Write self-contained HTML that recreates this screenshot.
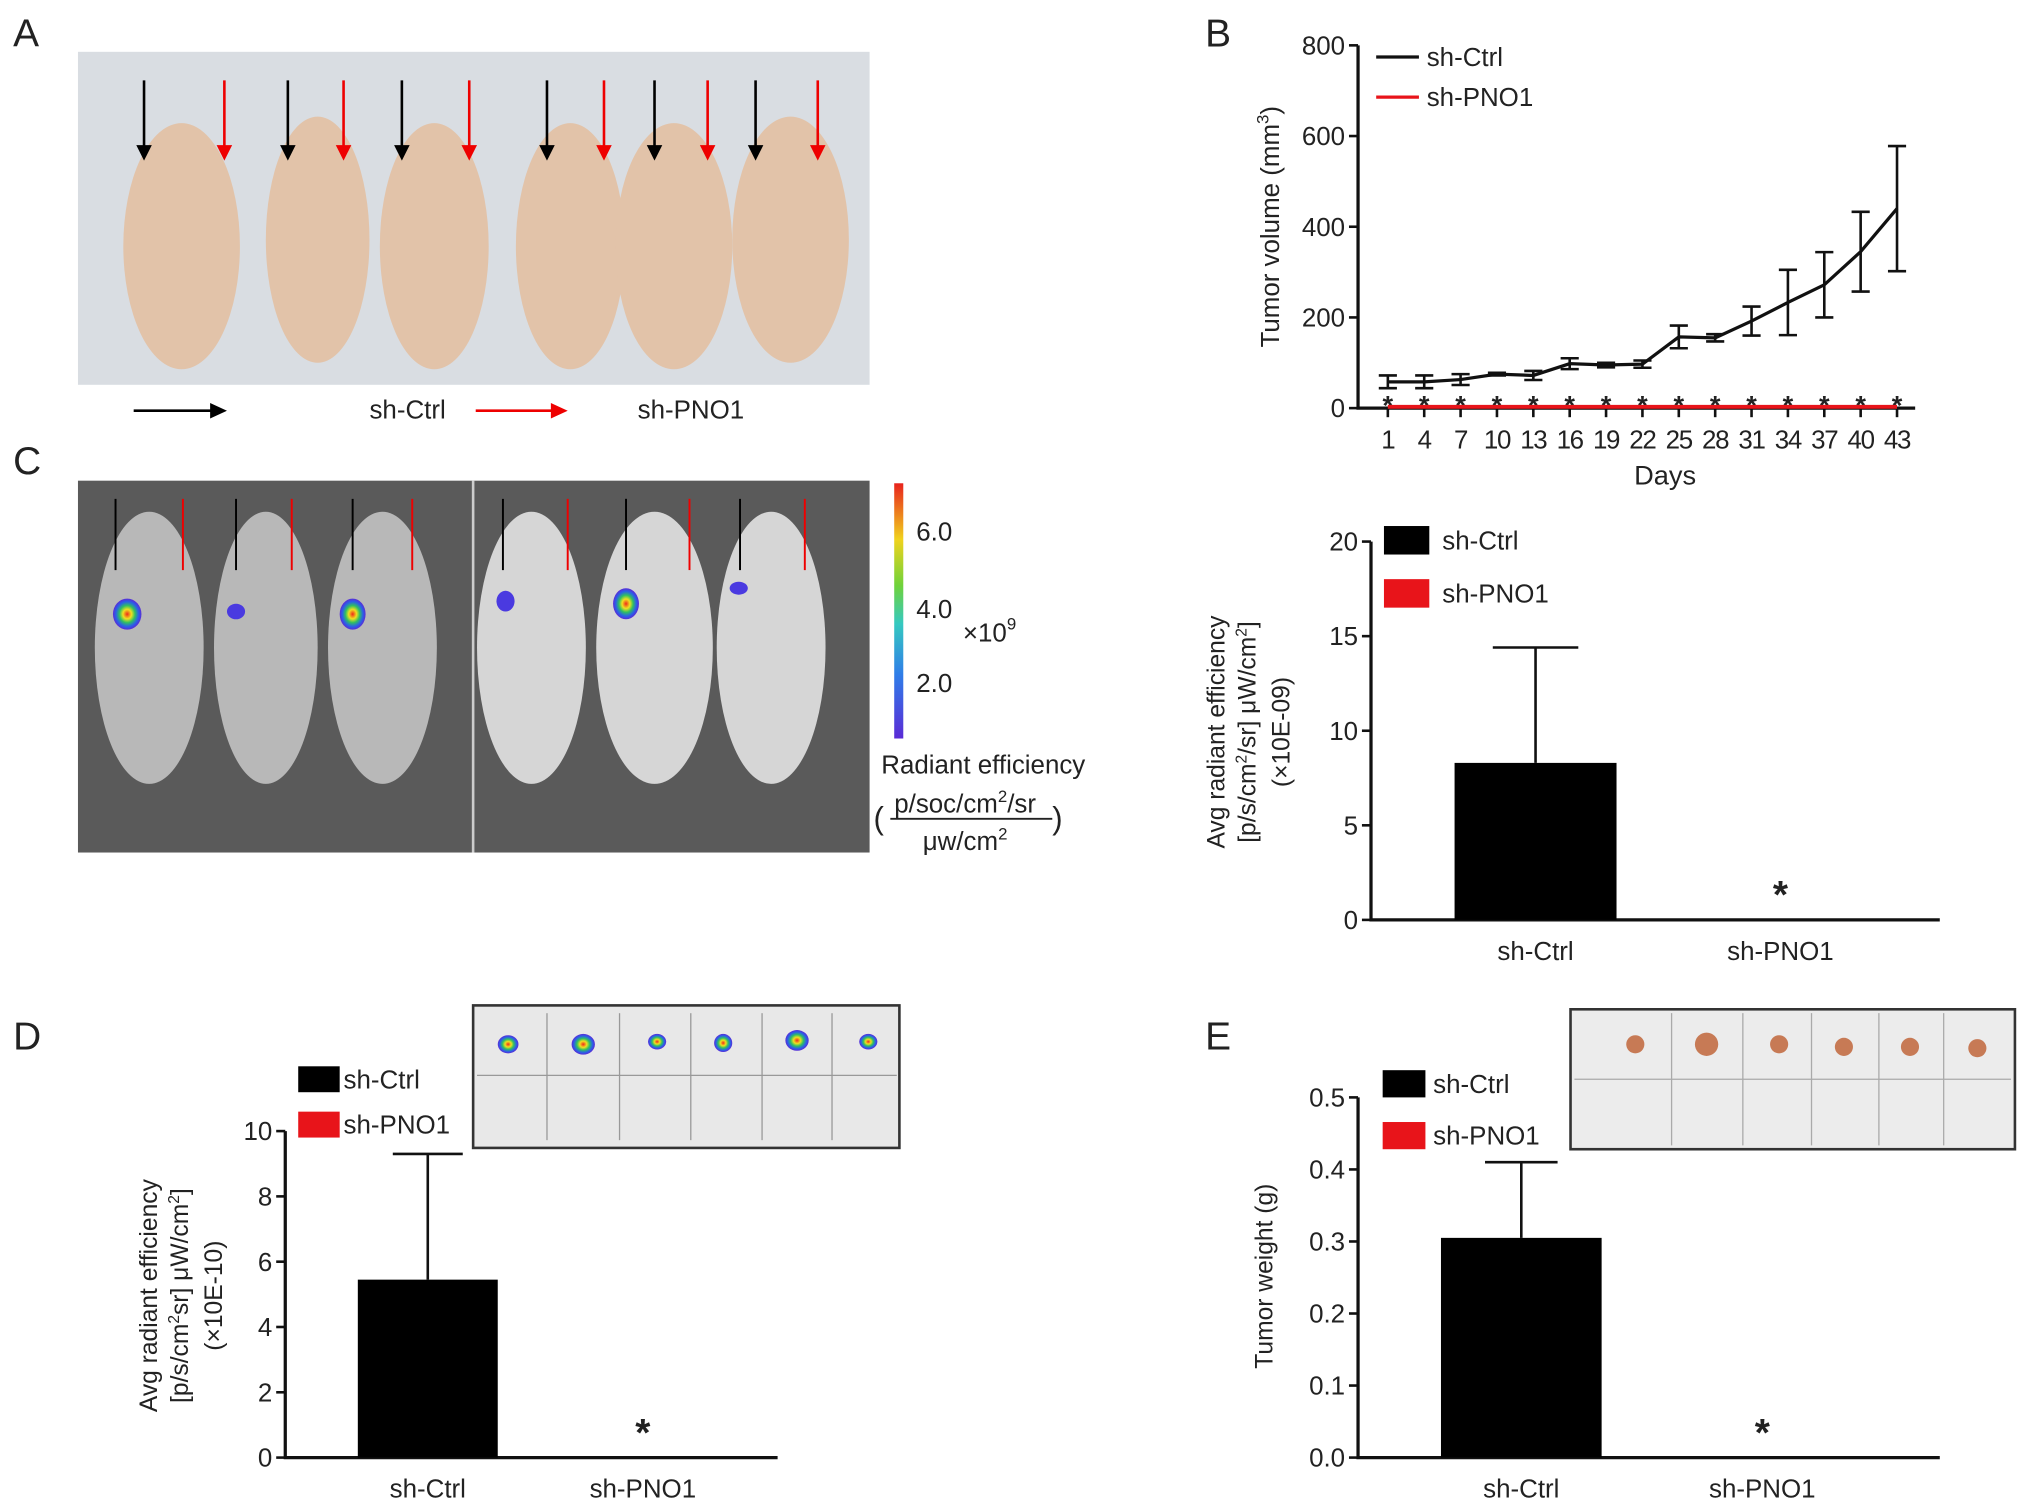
<!DOCTYPE html>
<html><head><meta charset="utf-8"><style>
html,body{margin:0;padding:0;background:#fff;}
svg{display:block;font-family:"Liberation Sans",Arial,sans-serif;}
text{fill:#222;}
</style></head><body>
<svg id="fig" width="2032" height="1512" viewBox="0 0 1568 1167" xmlns="http://www.w3.org/2000/svg">
<defs>
<linearGradient id="cbar" x1="0" y1="1" x2="0" y2="0">
<stop offset="0" stop-color="#5a2bd6"/><stop offset="0.25" stop-color="#2f7de8"/><stop offset="0.45" stop-color="#35c9c0"/><stop offset="0.6" stop-color="#6fd23a"/><stop offset="0.78" stop-color="#f0d21d"/><stop offset="1" stop-color="#e8231d"/></linearGradient>
<radialGradient id="spot"><stop offset="0" stop-color="#f02a1a"/><stop offset="0.3" stop-color="#f0e020"/><stop offset="0.55" stop-color="#30c060"/><stop offset="0.8" stop-color="#2a60e8"/><stop offset="1" stop-color="#5a2bd6"/></radialGradient>
</defs>
<text x="10" y="36" font-size="30">A</text>
<text x="930" y="36" font-size="30">B</text>
<text x="10" y="366" font-size="30">C</text>
<text x="10" y="810" font-size="30">D</text>
<text x="930" y="810" font-size="30">E</text>

<g>
<rect x="60" y="40" width="611" height="257" fill="#d9dde2"/>
<g fill="#e2c3a9">
<ellipse cx="140" cy="190" rx="45" ry="95"/><ellipse cx="245" cy="185" rx="40" ry="95"/><ellipse cx="335" cy="190" rx="42" ry="95"/>
<ellipse cx="440" cy="190" rx="42" ry="95"/><ellipse cx="520" cy="190" rx="45" ry="95"/><ellipse cx="610" cy="185" rx="45" ry="95"/>
</g>
<g stroke-width="2">
<line x1="111" y1="62" x2="111" y2="114" stroke="#000"/><line x1="173" y1="62" x2="173" y2="114" stroke="#e00"/>
<line x1="222" y1="62" x2="222" y2="114" stroke="#000"/><line x1="265" y1="62" x2="265" y2="114" stroke="#e00"/>
<line x1="310" y1="62" x2="310" y2="114" stroke="#000"/><line x1="362" y1="62" x2="362" y2="114" stroke="#e00"/>
<line x1="422" y1="62" x2="422" y2="114" stroke="#000"/><line x1="466" y1="62" x2="466" y2="114" stroke="#e00"/>
<line x1="505" y1="62" x2="505" y2="114" stroke="#000"/><line x1="546" y1="62" x2="546" y2="114" stroke="#e00"/>
<line x1="583" y1="62" x2="583" y2="114" stroke="#000"/><line x1="631" y1="62" x2="631" y2="114" stroke="#e00"/>
</g>
<g fill="#000"><polygon points="105,112 117,112 111,124"/><polygon points="216,112 228,112 222,124"/><polygon points="304,112 316,112 310,124"/><polygon points="416,112 428,112 422,124"/><polygon points="499,112 511,112 505,124"/><polygon points="577,112 589,112 583,124"/></g>
<g fill="#e00"><polygon points="167,112 179,112 173,124"/><polygon points="259,112 271,112 265,124"/><polygon points="356,112 368,112 362,124"/><polygon points="460,112 472,112 466,124"/><polygon points="540,112 552,112 546,124"/><polygon points="625,112 637,112 631,124"/></g>
</g>
<g>
<line x1="103" y1="317" x2="165" y2="317" stroke="#000" stroke-width="2"/><polygon points="175,317 162,311 162,323" fill="#000"/>
<text x="285" y="323" font-size="20">sh-Ctrl</text>
<line x1="367" y1="317" x2="428" y2="317" stroke="#e00" stroke-width="2"/><polygon points="438,317 425,311 425,323" fill="#e00"/>
<text x="492" y="323" font-size="20">sh-PNO1</text>
</g>

<g>
<rect x="60" y="371" width="611" height="287" fill="#5a5a5a"/>
<line x1="365" y1="371" x2="365" y2="658" stroke="#ccc" stroke-width="2"/>
<g fill="#b8b8b8">
<ellipse cx="115" cy="500" rx="42" ry="105"/><ellipse cx="205" cy="500" rx="40" ry="105"/><ellipse cx="295" cy="500" rx="42" ry="105"/>
</g>
<g fill="#d6d6d6">
<ellipse cx="410" cy="500" rx="42" ry="105"/><ellipse cx="505" cy="500" rx="45" ry="105"/><ellipse cx="595" cy="500" rx="42" ry="105"/>
</g>
<g stroke-width="1.5">
<line x1="89" y1="385" x2="89" y2="440" stroke="#000"/><line x1="141" y1="385" x2="141" y2="440" stroke="#e00"/>
<line x1="182" y1="385" x2="182" y2="440" stroke="#000"/><line x1="225" y1="385" x2="225" y2="440" stroke="#e00"/>
<line x1="272" y1="385" x2="272" y2="440" stroke="#000"/><line x1="318" y1="385" x2="318" y2="440" stroke="#e00"/>
<line x1="388" y1="385" x2="388" y2="440" stroke="#000"/><line x1="438" y1="385" x2="438" y2="440" stroke="#e00"/>
<line x1="483" y1="385" x2="483" y2="440" stroke="#000"/><line x1="532" y1="385" x2="532" y2="440" stroke="#e00"/>
<line x1="571" y1="385" x2="571" y2="440" stroke="#000"/><line x1="621" y1="385" x2="621" y2="440" stroke="#e00"/>
</g>
<ellipse cx="98" cy="474" rx="11" ry="12" fill="url(#spot)"/><ellipse cx="182" cy="472" rx="7" ry="6" fill="#4a3ae0"/>
<ellipse cx="272" cy="474" rx="10" ry="12" fill="url(#spot)"/><ellipse cx="390" cy="464" rx="7" ry="8" fill="#4a3ae0"/>
<ellipse cx="483" cy="466" rx="10" ry="12" fill="url(#spot)"/><ellipse cx="570" cy="454" rx="7" ry="5" fill="#4a3ae0"/>
<rect x="690" y="373" width="7" height="197" fill="url(#cbar)"/>
</g>
<g font-size="20">
<text x="707" y="417">6.0</text><text x="707" y="477">4.0</text><text x="707" y="534">2.0</text>
<text x="743" y="495">×10<tspan font-size="13" dy="-9">9</tspan></text>
<text x="680" y="597">Radiant efficiency</text>
<text x="674" y="640" font-size="24">(</text><text x="812" y="640" font-size="24">)</text>
<text x="690" y="627">p/soc/cm<tspan font-size="13" dy="-8">2</tspan><tspan dy="8">/sr</tspan></text>
<line x1="687" y1="632" x2="812" y2="632" stroke="#222" stroke-width="1.5"/>
<text x="712" y="656">μw/cm<tspan font-size="13" dy="-8">2</tspan></text>
</g>

<g>
<rect x="365" y="776" width="329" height="110" fill="#e8e8e8" stroke="#333" stroke-width="2"/>
<line x1="368" y1="830" x2="692" y2="830" stroke="#999"/>
<g stroke="#999"><line x1="422" y1="782" x2="422" y2="880"/><line x1="478" y1="782" x2="478" y2="880"/><line x1="533" y1="782" x2="533" y2="880"/><line x1="588" y1="782" x2="588" y2="880"/><line x1="642" y1="782" x2="642" y2="880"/></g>
<g fill="url(#spot)"><ellipse cx="392" cy="806" rx="8" ry="7"/><ellipse cx="450" cy="806" rx="9" ry="8"/><ellipse cx="507" cy="804" rx="7" ry="6"/><ellipse cx="558" cy="805" rx="7" ry="7"/><ellipse cx="615" cy="803" rx="9" ry="8"/><ellipse cx="670" cy="804" rx="7" ry="6"/></g>
</g>
<g>
<rect x="1212" y="779" width="343" height="108" fill="#ececec" stroke="#333" stroke-width="2"/>
<line x1="1215" y1="833" x2="1552" y2="833" stroke="#aaa"/>
<g stroke="#aaa"><line x1="1290" y1="782" x2="1290" y2="884"/><line x1="1345" y1="782" x2="1345" y2="884"/><line x1="1398" y1="782" x2="1398" y2="884"/><line x1="1450" y1="782" x2="1450" y2="884"/><line x1="1500" y1="782" x2="1500" y2="884"/></g>
<g fill="#c77a55"><circle cx="1262" cy="806" r="7"/><circle cx="1317" cy="806" r="9"/><circle cx="1373" cy="806" r="7"/><circle cx="1423" cy="808" r="7"/><circle cx="1474" cy="808" r="7"/><circle cx="1526" cy="809" r="7"/></g>
</g>

<g id="chartB"></g>
<g id="chartC"></g>
<g id="chartD"></g>
<g id="chartE"></g>
</svg>
<script>
const days = [1,4,7,10,13,16,19,22,25,28,31,34,37,40,43];
const ctrlVolume = [58,58,63,75,72,98,95,97,157,155,192,233,272,345,440];
const ctrlVolumeErr = [14,14,12,3,10,12,5,8,25,8,32,72,72,88,138];
const volTicks = [0,200,400,600,800];
const barGroups = ['sh-Ctrl','sh-PNO1'];
const radiantC = [8.3,0];
const radiantCErr = [6.1,0];
const radiantCTicks = [0,5,10,15,20];
const radiantD = [5.45,0];
const radiantDErr = [3.85,0];
const radiantDTicks = [0,2,4,6,8,10];
const weightE = [0.305,0];
const weightEErr = [0.105,0];
const weightETicks = ['0.0','0.1','0.2','0.3','0.4','0.5'];

const NS='http://www.w3.org/2000/svg';
function mk(parent,tag,attrs,txt){const e=document.createElementNS(NS,tag);for(const k in attrs)e.setAttribute(k,attrs[k]);if(txt!==undefined)e.textContent=txt;parent.appendChild(e);return e;}

(function(){
const g=document.getElementById('chartB');
const x0=1048,x1=1478,yTop=35,yBot=315,vmax=800;
const xs=d=>1071+(d-1)*(1464-1071)/42;
const ys=v=>yBot-(v/vmax)*(yBot-yTop);
const ax=mk(g,'path',{d:`M${x0},${yTop}V${yBot}H${x1}`,fill:'none',stroke:'#111','stroke-width':2.5});


volTicks.forEach(t=>{
 const y=ys(t);
 mk(g,'line',{x1:x0-7,x2:x0,y1:y,y2:y,stroke:'#111','stroke-width':2});
 const tx=mk(g,'text',{x:x0-10,y:y+7,'font-size':20,'text-anchor':'end'},t);
 
 
});
days.forEach(d=>{
 const x=xs(d);
 mk(g,'line',{x1:x,x2:x,y1:yBot,y2:yBot+7,stroke:'#111','stroke-width':2});
 const tx=mk(g,'text',{x:x,y:yBot+31,'font-size':20,'text-anchor':'middle','letter-spacing':'-1'},d);
 
 
 const st=mk(g,'text',{x:x,y:yBot+5,'font-size':21,'text-anchor':'middle','font-weight':'bold'},'*');
 
 
});
const red=mk(g,'line',{x1:xs(days[0]),x2:xs(days[days.length-1]),y1:yBot-1,y2:yBot-1,stroke:'#e8141a','stroke-width':3});


let dstr='';
days.forEach((d,i)=>{dstr+=(i?'L':'M')+xs(d)+','+ys(ctrlVolume[i]);});
const ln=mk(g,'path',{d:dstr,fill:'none',stroke:'#111','stroke-width':2.5});


days.forEach((d,i)=>{
 const x=xs(d),a=ys(ctrlVolume[i]+ctrlVolumeErr[i]),b=ys(ctrlVolume[i]-ctrlVolumeErr[i]);
 const eb=mk(g,'path',{d:`M${x},${a}V${b}M${x-7},${a}H${x+7}M${x-7},${b}H${x+7}`,stroke:'#111','stroke-width':2,fill:'none'});
 
 
});
mk(g,'line',{x1:1062,x2:1095,y1:44,y2:44,stroke:'#111','stroke-width':2.5});
mk(g,'text',{x:1101,y:51,'font-size':20},'sh-Ctrl');
mk(g,'line',{x1:1062,x2:1095,y1:75,y2:75,stroke:'#e8141a','stroke-width':2.5});
mk(g,'text',{x:1101,y:82,'font-size':20},'sh-PNO1');
const xt=mk(g,'text',{x:1285,y:374,'font-size':21,'text-anchor':'middle'},'Days');


const yt=mk(g,'text',{transform:'translate(987,175) rotate(-90)','font-size':20,'text-anchor':'middle'});


yt.innerHTML='Tumor volume (mm<tspan font-size="13" dy="-8">3</tspan><tspan dy="8">)</tspan>';
})();

function barChart(id,cfg){
 const g=document.getElementById(id);
 const ys=v=>cfg.yBot-(v/cfg.vmax)*(cfg.yBot-cfg.yTop);
 const ax=mk(g,'path',{d:`M${cfg.x0},${cfg.yTop}V${cfg.yBot}H${cfg.x1}`,fill:'none',stroke:'#111','stroke-width':2.5});
 
 
 cfg.ticks.forEach(t=>{
  const y=ys(parseFloat(t));
  mk(g,'line',{x1:cfg.x0-7,x2:cfg.x0,y1:y,y2:y,stroke:'#111','stroke-width':2});
  const tx=mk(g,'text',{x:cfg.x0-10,y:y+7,'font-size':20,'text-anchor':'end'},t);
  
  
 });
 barGroups.forEach((name,i)=>{
  const cx=cfg.centers[i],v=cfg.values[i],e=cfg.errs[i];
  if(v>0){
   const top=ys(v+e);
   const eb=mk(g,'path',{d:`M${cx},${ys(v)}V${top}M${cx-cfg.cap},${top}H${cx+cfg.cap}`,stroke:'#111','stroke-width':2,fill:'none'});
   
   
   const r=mk(g,'rect',{x:cx-cfg.bw/2,y:ys(v),width:cfg.bw,height:cfg.yBot-ys(v),fill:'#000'});
   
   
  } else {
   const st=mk(g,'text',{x:cx,y:cfg.yBot-9,'font-size':30,'text-anchor':'middle','font-weight':'bold'},'*');
   
   
  }
  const lb=mk(g,'text',{x:cx,y:cfg.yBot+31,'font-size':20,'text-anchor':'middle'},name);
  
  
 });
 cfg.legend.forEach((L,i)=>{
  mk(g,'rect',{x:L.x,y:L.y,width:L.w,height:L.h,fill:i?'#e8141a':'#000'});
  const t=mk(g,'text',{x:L.tx,y:L.y+L.h/2+7,'font-size':20},barGroups[i]);
  
  
 });
 const yt=mk(g,'text',{'font-size':19,'text-anchor':'middle',transform:`translate(${cfg.tx},${cfg.ty}) rotate(-90)`});
 
 
 yt.innerHTML=cfg.title;
}
barChart('chartC',{x0:1058,x1:1497,yTop:418,yBot:710,vmax:20,ticks:radiantCTicks,centers:[1185,1374],bw:125,cap:33,values:radiantC,errs:radiantCErr,
 legend:[{x:1068,y:406,w:35,h:22,tx:1113},{x:1068,y:447,w:35,h:22,tx:1113}],tx:960,ty:565,
 title:'<tspan x="0" dy="-15">Avg radiant efficiency</tspan><tspan x="0" dy="24">[p/s/cm<tspan font-size="12" dy="-7">2</tspan><tspan dy="7">/sr] μW/cm</tspan><tspan font-size="12" dy="-7">2</tspan><tspan dy="7">]</tspan></tspan><tspan x="0" dy="26">(×10E-09)</tspan>'});
barChart('chartD',{x0:220,x1:600,yTop:873,yBot:1125,vmax:10,ticks:radiantDTicks,centers:[330,496],bw:108,cap:27,values:radiantD,errs:radiantDErr,
 legend:[{x:230,y:823,w:32,h:20,tx:265},{x:230,y:858,w:32,h:20,tx:265}],tx:136,ty:1000,
 title:'<tspan x="0" dy="-15">Avg radiant efficiency</tspan><tspan x="0" dy="24">[p/s/cm<tspan font-size="12" dy="-7">2</tspan><tspan dy="7">sr] μW/cm</tspan><tspan font-size="12" dy="-7">2</tspan><tspan dy="7">]</tspan></tspan><tspan x="0" dy="26">(×10E-10)</tspan>'});
barChart('chartE',{x0:1048,x1:1497,yTop:847,yBot:1125,vmax:0.5,ticks:weightETicks,centers:[1174,1360],bw:124,cap:28,values:weightE,errs:weightEErr,
 legend:[{x:1067,y:826,w:33,h:21,tx:1106},{x:1067,y:866,w:33,h:21,tx:1106}],tx:982,ty:985,
 title:'Tumor weight (g)'});
</script>
</body></html>
